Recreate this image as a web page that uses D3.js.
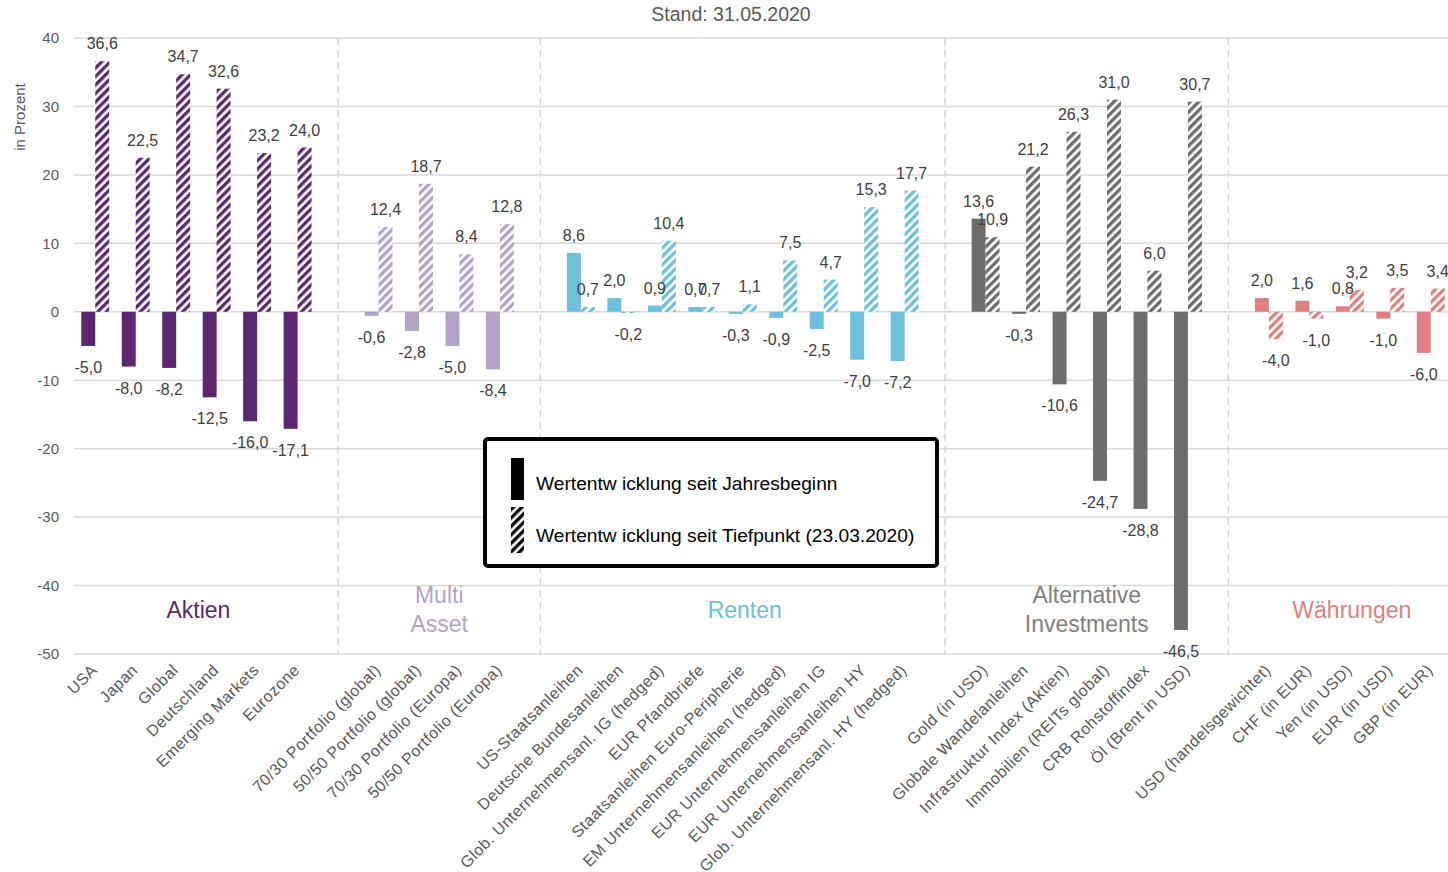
<!DOCTYPE html>
<html>
<head>
<meta charset="utf-8">
<script src="https://cdn.jsdelivr.net/npm/d3@7"></script>
<style>
  body { margin: 0; background: #fff; }
  svg { display: block; font-family: "Liberation Sans", Arial, sans-serif; }
</style>
</head>
<body>
<div id="vis"></div>
<script>
// data
var groupNames = ["Aktien", "Multi Asset", "Renten", "Alternative Investments", "Währungen"];
var categories = [
  "USA", "Japan", "Global", "Deutschland", "Emerging Markets", "Eurozone",
  "70/30 Portfolio (global)", "50/50 Portfolio (global)", "70/30 Portfolio (Europa)", "50/50 Portfolio (Europa)",
  "US-Staatsanleihen", "Deutsche Bundesanleihen", "Glob. Unternehmensanl. IG (hedged)", "EUR Pfandbriefe",
  "Staatsanleihen Euro-Peripherie", "EM Unternehmensanleihen (hedged)", "EUR Unternehmensanleihen IG",
  "EUR Unternehmensanleihen HY", "Glob. Unternehmensanl. HY (hedged)",
  "Gold (in USD)", "Globale Wandelanleihen", "Infrastruktur Index (Aktien)", "Immobilien (REITs global)",
  "CRB Rohstoffindex", "Öl (Brent in USD)",
  "USD (handelsgewichtet)", "CHF (in EUR)", "Yen (in USD)", "EUR (in USD)", "GBP (in EUR)"
];
var categoryGroup = [0,0,0,0,0,0, 1,1,1,1, 2,2,2,2,2,2,2,2,2, 3,3,3,3,3,3, 4,4,4,4,4];
var sinceYearStart = [-5.0, -8.0, -8.2, -12.5, -16.0, -17.1,
  -0.6, -2.8, -5.0, -8.4,
  8.6, 2.0, 0.9, 0.7, -0.3, -0.9, -2.5, -7.0, -7.2,
  13.6, -0.3, -10.6, -24.7, -28.8, -46.5,
  2.0, 1.6, 0.8, -1.0, -6.0];
var sinceLow = [36.6, 22.5, 34.7, 32.6, 23.2, 24.0,
  12.4, 18.7, 8.4, 12.8,
  0.7, -0.2, 10.4, 0.7, 1.1, 7.5, 4.7, 15.3, 17.7,
  10.9, 21.2, 26.3, 31.0, 6.0, 30.7,
  -4.0, -1.0, 3.2, 3.5, 3.4];
var yTicks = [40, 30, 20, 10, 0, -10, -20, -30, -40, -50];
var seriesNames = ["Wertentw icklung seit Jahresbeginn", "Wertentw icklung seit Tiefpunkt (23.03.2020)"];
var title = "Stand: 31.05.2020";

var groupColors = ["#5c2770", "#b3a3c9", "#6bc0dc", "#6d6d6d", "#e07f80"];
var groupLabelColors = ["#5c2770", "#b3a3c9", "#6bc0dc", "#7f7f7f", "#e07f80"];

var width = 1448, height = 872;
var de = d3.formatLocale({decimal: ",", thousands: ".", grouping: [3], currency: ["", " €"], minus: "-"});
var fmt = de.format(".1f");
var fmtTick = de.format("d");

// slots: categories plus one empty slot between groups
var slots = [];
categories.forEach(function(c, i) {
  if (i > 0 && categoryGroup[i] !== categoryGroup[i - 1]) slots.push("gap" + categoryGroup[i]);
  slots.push(c);
});

var x0 = d3.scaleBand().domain(slots).range([75, 1451]).paddingInner(0.31).paddingOuter(0.155);
var x1 = d3.scaleBand().domain(["ytd", "low"]).range([0, x0.bandwidth()]);
var y = d3.scaleLinear().domain([-50, 40]).range([654, 38]);

var svg = d3.select("#vis").append("svg").attr("width", width).attr("height", height);

// hatch patterns, one per group colour plus black for the legend
var defs = svg.append("defs");
groupColors.concat(["#000"]).forEach(function(col, i) {
  var p = defs.append("pattern")
    .attr("id", "hatch" + i)
    .attr("patternUnits", "userSpaceOnUse")
    .attr("width", 6).attr("height", 6)
    .attr("patternTransform", "rotate(45)");
  p.append("rect").attr("width", 6).attr("height", 6).attr("fill", "#fff");
  p.append("rect").attr("width", 3.3).attr("height", 6).attr("fill", col);
});

// title
svg.append("text")
  .attr("x", 731).attr("y", 21)
  .attr("text-anchor", "middle")
  .attr("font-size", 19.5).attr("fill", "#595959")
  .text(title);

// gridlines
svg.append("g").selectAll("line")
  .data(yTicks).enter().append("line")
  .attr("x1", 74).attr("x2", width)
  .attr("y1", function(d) { return y(d); })
  .attr("y2", function(d) { return y(d); })
  .attr("stroke", "#d9d9d9").attr("stroke-width", 1.5);

// y axis
var yAxis = d3.axisLeft(y).tickValues(yTicks).tickSize(0).tickPadding(0).tickFormat(fmtTick);
var gy = svg.append("g").attr("transform", "translate(59,0)").call(yAxis);
gy.select(".domain").remove();
gy.selectAll("text").attr("font-size", 15).attr("fill", "#595959")
  .attr("font-family", "Liberation Sans, Arial, sans-serif");

svg.append("text")
  .attr("transform", "translate(25,117) rotate(-90)")
  .attr("text-anchor", "middle")
  .attr("font-size", 15).attr("fill", "#595959")
  .text("in Prozent");

// group dividers
svg.append("g").selectAll("line")
  .data(slots.filter(function(s) { return s.indexOf("gap") === 0; }))
  .enter().append("line")
  .attr("x1", function(d) { return x0(d) + x0.bandwidth() / 2; })
  .attr("x2", function(d) { return x0(d) + x0.bandwidth() / 2; })
  .attr("y1", 38).attr("y2", 654)
  .attr("stroke", "#d0d0d0").attr("stroke-width", 1.3)
  .attr("stroke-dasharray", "7,5");

// bars
var rows = categories.map(function(c, i) {
  return {name: c, group: categoryGroup[i], ytd: sinceYearStart[i], low: sinceLow[i]};
});
var barData = [];
rows.forEach(function(r) {
  barData.push({name: r.name, group: r.group, key: "ytd", value: r.ytd});
  barData.push({name: r.name, group: r.group, key: "low", value: r.low});
});

svg.append("g").selectAll("rect")
  .data(barData).enter().append("rect")
  .attr("x", function(d) { return x0(d.name) + x1(d.key); })
  .attr("width", x1.bandwidth())
  .attr("y", function(d) { return y(Math.max(0, d.value)); })
  .attr("height", function(d) { return Math.abs(y(d.value) - y(0)); })
  .attr("fill", function(d) {
    return d.key === "ytd" ? groupColors[d.group] : "url(#hatch" + d.group + ")";
  });

// value labels
svg.append("g").selectAll("text")
  .data(barData).enter().append("text")
  .attr("x", function(d) { return x0(d.name) + x1(d.key) + x1.bandwidth() / 2; })
  .attr("y", function(d) { return d.value >= 0 ? y(d.value) - 12 : y(d.value) + 27; })
  .attr("text-anchor", "middle")
  .attr("font-size", 16).attr("fill", "#404040")
  .text(function(d) { return fmt(d.value); });

// category labels
svg.append("g").selectAll("text")
  .data(categories).enter().append("text")
  .attr("transform", function(d) {
    return "translate(" + (x0(d) + x0.bandwidth() / 2 + 3) + ",671) rotate(-45)";
  })
  .attr("text-anchor", "end")
  .attr("font-size", 16).attr("letter-spacing", 0.5).attr("fill", "#595959")
  .text(function(d) { return d; });

// group labels
groupNames.forEach(function(g, gi) {
  var members = categories.filter(function(c, i) { return categoryGroup[i] === gi; });
  var cx = (x0(members[0]) + x0(members[members.length - 1]) + x0.bandwidth()) / 2;
  var words = g.split(" ");
  var t = svg.append("text")
    .attr("text-anchor", "middle")
    .attr("font-size", 23).attr("fill", groupLabelColors[gi]);
  if (words.length === 1) {
    t.attr("x", cx + 2).attr("y", 618).text(g);
  } else {
    words.forEach(function(w, wi) {
      t.append("tspan").attr("x", cx).attr("y", 603 + wi * 29).text(w);
    });
  }
});

// legend
var lg = svg.append("g");
lg.append("rect")
  .attr("x", 485).attr("y", 439).attr("width", 452).attr("height", 127).attr("rx", 3)
  .attr("fill", "#fff").attr("stroke", "#000").attr("stroke-width", 4);
lg.append("rect").attr("x", 511).attr("y", 458).attr("width", 13).attr("height", 42).attr("fill", "#000");
lg.append("rect").attr("x", 511).attr("y", 507).attr("width", 13).attr("height", 46).attr("fill", "url(#hatch5)");
lg.selectAll("text.lt")
  .data(seriesNames).enter().append("text")
  .attr("class", "lt")
  .attr("x", 536)
  .attr("y", function(d, i) { return 490 + i * 52; })
  .attr("font-size", 19.2).attr("fill", "#000")
  .text(function(d) { return d; });
</script>
</body>
</html>
